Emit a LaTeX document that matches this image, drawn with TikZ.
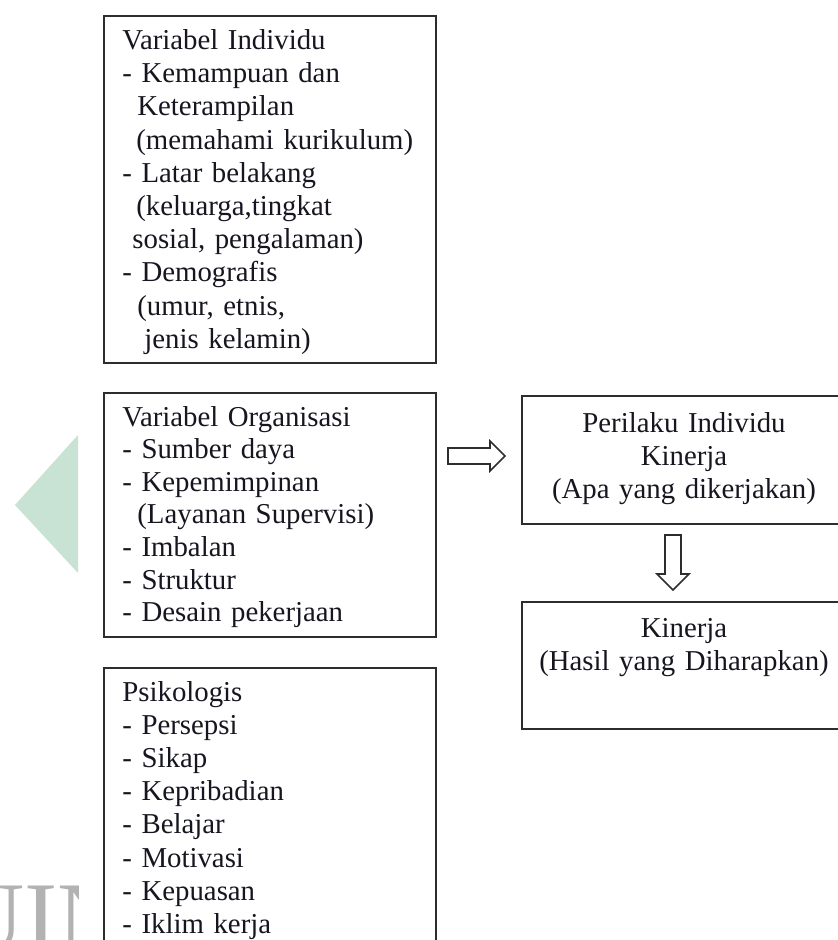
\documentclass[tikz,border=0pt]{standalone}
\usepackage{fontspec}
\setmainfont{Liberation Serif}
\usetikzlibrary{calc}
\definecolor{wmgreen}{RGB}{200,226,211}
\definecolor{ink}{RGB}{22,22,32}
\definecolor{edge}{RGB}{45,45,45}
\tikzset{
  boxframe/.style={draw=edge, line width=1pt, inner sep=0pt, anchor=north west},
  listtext/.style={anchor=base west, inner sep=0pt, align=left, text width=160pt, text=ink},
  centertext/.style={anchor=base, inner sep=0pt, align=center, text width=170pt, text=ink,
    font=\fontsize{14.4pt}{16.6pt}\selectfont},
  blockarrow/.style={draw=edge, fill=white, line width=0.8pt, line join=miter},
}
\begin{document}
\begin{tikzpicture}[x=0.5pt,y=-0.5pt]
\clip (0,0) rectangle (838,940);
\fill[white] (0,0) rectangle (838,940);
% watermark
\fill[wmgreen] (15,505) -- (78,435) -- (78,573) -- cycle;
\begin{scope}
\clip (0,860) rectangle (78,940);
\node[anchor=base west, inner sep=0pt, text=black!30, font=\fontsize{50pt}{50pt}\selectfont] (wm) at (-48,951) {UIN};
\end{scope}
% left boxes
\node[boxframe, minimum width=166pt, minimum height=173.5pt] (b1) at (103,15) {};
\node[boxframe, minimum width=166pt, minimum height=122pt] (b2) at (103,392) {};
\node[boxframe, minimum width=166pt, minimum height=150pt] (b3) at (103,667) {};
% right boxes
\node[boxframe, minimum width=165pt, minimum height=64pt] (r1) at (521,395) {};
\node[boxframe, minimum width=165pt, minimum height=63.5pt] (r2) at (521,601) {};
% texts
\node[listtext, font=\fontsize{14.4pt}{16.6pt}\selectfont] (t1) at (122,49.5) {Variabel Individu\\
- Kemampuan dan\\
\hspace*{7.5pt}Keterampilan\\
\hspace*{7pt}(memahami kurikulum)\\
- Latar belakang\\
\hspace*{7pt}(keluarga,tingkat\\
\hspace*{5pt}sosial, pengalaman)\\
- Demografis\\
\hspace*{7.5pt}(umur, etnis,\\
\hspace*{11pt}jenis kelamin)};
\begin{scope}
\clip (103,392) rectangle (435,628);
\node[listtext, font=\fontsize{14.4pt}{16.3pt}\selectfont] (t2) at (122,426) {Variabel Organisasi\\
- Sumber daya\\
- Kepemimpinan\\
\hspace*{7.5pt}(Layanan Supervisi)\\
- Imbalan\\
- Struktur\\
- Desain pekerjaan};
\end{scope}
\node[listtext, font=\fontsize{14.4pt}{16.6pt}\selectfont] (t3) at (122,701) {Psikologis\\
- Persepsi\\
- Sikap\\
- Kepribadian\\
- Belajar\\
- Motivasi\\
- Kepuasan\\
- Iklim kerja};
\node[centertext] (t4) at (684,432) {Perilaku Individu\\Kinerja\\(Apa yang dikerjakan)};
\node[centertext] (t5) at (684,637) {Kinerja\\(Hasil yang Diharapkan)};
% block arrows
\coordinate (ra) at ($(b2.east)+(11,-59)$);
\draw[blockarrow] (ra) ++(0,-8) -- ++(42,0) -- ++(0,-7) -- ++(15,15) -- ++(-15,15) -- ++(0,-7) -- ++(-42,0) -- cycle;
\coordinate (da) at ($(r1.south west)+(152,10)$);
\draw[blockarrow] (da) ++(-8,0) -- ++(16,0) -- ++(0,39) -- ++(8,0) -- ++(-16,16) -- ++(-16,-16) -- ++(8,0) -- cycle;
\end{tikzpicture}
\end{document}
